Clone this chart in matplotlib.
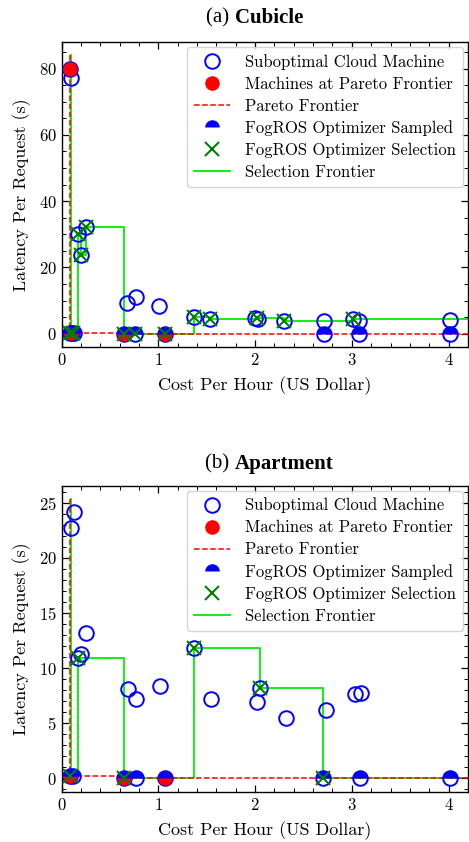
import matplotlib
matplotlib.use("Agg")
from matplotlib import pyplot as plt
from matplotlib.ticker import MultipleLocator

plt.rcParams["font.family"] = "cmr10"
plt.rcParams["axes.formatter.use_mathtext"] = True
plt.rcParams["mathtext.fontset"] = "cm"

# (a) Cubicle
sub_cost_a = [0.085, 0.093, 0.172, 0.196, 0.252, 0.680, 0.770, 1.007, 1.363, 1.538, 2.000, 2.030,
              2.300, 2.710, 3.010, 3.070, 4.020, 0.090, 0.110, 0.130, 0.640, 0.760, 1.070, 2.715,
              3.070, 4.020]
sub_lat_a = [80.0, 77.2, 30.2, 23.9, 32.2, 9.3, 11.0, 8.3, 4.9, 4.3, 4.7, 4.4,
             3.9, 3.7, 4.3, 3.9, 4.1, 0.3, 0.3, 0.3, 0.0, 0.0, 0.0, 0.0,
             0.0, 0.0]
pareto_cost_a = [0.085, 0.100, 0.640, 1.070]
pareto_lat_a = [80.0, 0.3, 0.0, 0.0]
front_cost_a = [0.085, 0.085, 0.640, 4.2]
front_lat_a = [84.0, 0.3, 0.0, 0.0]
sampled_cost_a = [0.090, 0.110, 0.130, 0.640, 0.760, 1.070, 2.715, 3.070, 4.020]
sampled_lat_a = [0.3, 0.3, 0.3, 0.0, 0.0, 0.0, 0.0, 0.0, 0.0]
sel_cost_a = [0.090, 0.120, 0.172, 0.196, 0.252, 0.640, 0.760, 1.070, 1.363, 1.538, 2.020, 2.300, 3.010]
sel_lat_a = [0.3, 0.3, 30.2, 23.9, 32.2, 0.0, 0.0, 0.0, 4.9, 4.3, 4.6, 3.9, 4.3]
sel_front_cost_a = [0.092, 0.092, 0.172, 0.196, 0.252, 0.640, 1.363, 1.538, 2.020, 2.300, 3.010, 4.2]
sel_front_lat_a = [84.0, 0.3, 30.2, 23.9, 32.2, 0.0, 4.9, 4.3, 4.6, 3.9, 4.3, 4.3]

# (b) Apartment
sub_cost_b = [0.093, 0.127, 0.252, 0.196, 0.172, 0.683, 0.772, 1.014, 1.370, 1.545, 2.020, 2.050,
              2.315, 2.730, 3.030, 3.090, 0.090, 0.120, 0.640, 0.770, 1.070, 2.700, 3.080, 4.020]
sub_lat_b = [22.7, 24.1, 13.2, 11.3, 10.9, 8.1, 7.2, 8.4, 11.85, 7.2, 6.95, 8.2,
             5.5, 6.2, 7.6, 7.7, 0.2, 0.2, 0.0, 0.0, 0.0, 0.0, 0.0, 0.0]
pareto_cost_b = [0.090, 0.640, 1.070]
pareto_lat_b = [0.2, 0.0, 0.0]
front_cost_b = [0.085, 0.085, 0.640, 4.2]
front_lat_b = [25.3, 0.2, 0.0, 0.0]
sampled_cost_b = [0.090, 0.120, 0.640, 0.770, 1.070, 2.700, 3.080, 4.020]
sampled_lat_b = [0.2, 0.2, 0.0, 0.0, 0.0, 0.0, 0.0, 0.0]
sel_cost_b = [0.090, 0.172, 0.640, 1.370, 2.050, 2.700]
sel_lat_b = [0.2, 10.9, 0.0, 11.85, 8.2, 0.0]
sel_front_cost_b = [0.092, 0.092, 0.172, 0.640, 1.370, 2.050, 2.700, 4.2]
sel_front_lat_b = [25.3, 0.2, 10.9, 0.0, 11.85, 8.2, 0.0, 0.0]

panels = [
    ("(a) ", "Cubicle", sub_cost_a, sub_lat_a, pareto_cost_a, pareto_lat_a, front_cost_a, front_lat_a,
     sampled_cost_a, sampled_lat_a, sel_cost_a, sel_lat_a, sel_front_cost_a, sel_front_lat_a,
     (-4.0, 88.0), 20, 5),
    ("(b) ", "Apartment", sub_cost_b, sub_lat_b, pareto_cost_b, pareto_lat_b, front_cost_b, front_lat_b,
     sampled_cost_b, sampled_lat_b, sel_cost_b, sel_lat_b, sel_front_cost_b, sel_front_lat_b,
     (-1.27, 26.5), 5, 1),
]

fig = plt.figure(figsize=(4.69, 8.42), dpi=100)
axes_rects = [[0.1316, 0.5879, 0.866, 0.3621], [0.1316, 0.0590, 0.866, 0.3638]]
title_y = [0.979, 0.449]

for rect, ty, p in zip(axes_rects, title_y, panels):
    (tag, name, sc, sl, pc, pl, fc, fl, smc, sml, slc, sll, sfc, sfl, ylim, ymaj, ymin) = p
    ax = fig.add_axes(rect)

    h_front_sel, = ax.plot(sfc, sfl, drawstyle="steps-post", color="#00ee00", lw=1.3, zorder=1)
    h_front, = ax.plot(fc, fl, drawstyle="steps-post", color="red", ls="--", lw=1.1, zorder=2)
    h_sub, = ax.plot(sc, sl, ls="none", marker="o", ms=10.5, mfc="none", mec="blue", mew=1.4, zorder=3)
    h_par, = ax.plot(pc, pl, ls="none", marker="o", ms=10.5, mfc="red", mec="none", zorder=4)
    h_smp, = ax.plot(smc, sml, ls="none", marker="o", ms=10.5, mfc="blue", fillstyle="top",
                     mfcalt="none", mec="none", zorder=5)
    h_sel, = ax.plot(slc, sll, ls="none", marker="x", ms=10, mec="green", mew=1.5, zorder=6)

    ax.set_xlim(0, 4.2)
    ax.set_ylim(*ylim)
    ax.xaxis.set_major_locator(MultipleLocator(1))
    ax.xaxis.set_minor_locator(MultipleLocator(0.2))
    ax.yaxis.set_major_locator(MultipleLocator(ymaj))
    ax.yaxis.set_minor_locator(MultipleLocator(ymin))
    ax.tick_params(which="both", direction="in", top=True, right=True, labelsize=12)
    ax.tick_params(which="major", length=5, width=0.9)
    ax.tick_params(which="minor", length=3, width=0.7)
    for s in ax.spines.values():
        s.set_linewidth(1.0)

    ax.set_xlabel("Cost Per Hour (US Dollar)", fontsize=13, labelpad=6)
    ax.set_ylabel("Latency Per Request (s)", fontsize=13, labelpad=6)

    ax.legend([h_sub, h_par, h_front, h_smp, h_sel, h_front_sel],
              ["Suboptimal Cloud Machine", "Machines at Pareto Frontier", "Pareto Frontier",
               "FogROS Optimizer Sampled", "FogROS Optimizer Selection", "Selection Frontier"],
              loc="upper right", fontsize=12, handlelength=2.2, borderaxespad=0.3,
              labelspacing=0.4, handletextpad=0.9)

    fig.text(0.5, ty, tag, ha="right", va="center", fontsize=15, family="Liberation Serif")
    fig.text(0.5, ty, name, ha="left", va="center", fontsize=15, family="Liberation Serif",
             weight="bold")

fig.savefig("out.png", dpi=100)
